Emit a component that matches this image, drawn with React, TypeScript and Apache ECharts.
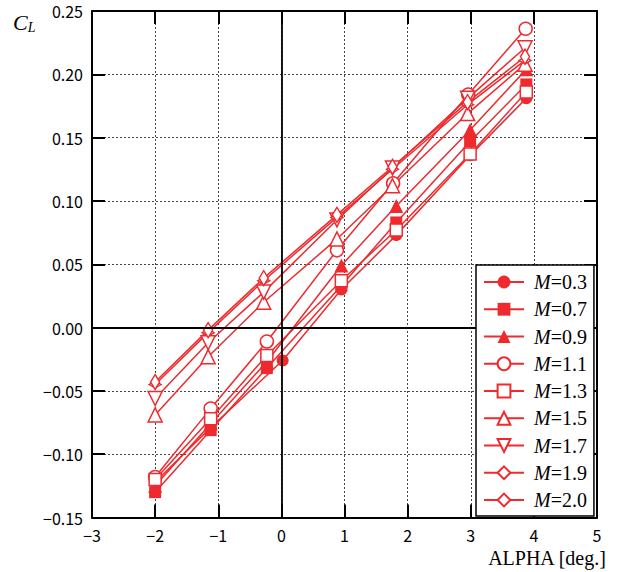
import React, { useEffect, useRef } from "react";
import * as echarts from "echarts";

const RED = "#EE2A2E";

// Angle of attack positions (deg.)
const alphaLow = [-2.0, -1.12, -0.23, 0.95, 1.82, 2.99, 3.88];
const alphaM03 = [-2.0, -1.12, 0.02, 0.95, 1.82, 2.99, 3.88];
const alphaM11 = [-2.0, -1.12, -0.23, 0.88, 1.77, 2.96, 3.87];
const alphaHigh = [-2.0, -1.16, -0.28, 0.88, 1.76, 2.95, 3.86];

// Lift coefficient values
const clM03 = [-0.122, -0.079, -0.026, 0.030, 0.073, 0.136, 0.181];
const clM07 = [-0.130, -0.081, -0.032, 0.033, 0.083, 0.147, 0.192];
const clM09 = [-0.125, -0.076, -0.027, 0.049, 0.096, 0.156, 0.204];
const clM11 = [-0.118, -0.064, -0.011, 0.061, 0.114, 0.184, 0.236];
const clM13 = [-0.120, -0.072, -0.022, 0.037, 0.077, 0.137, 0.186];
const clM15 = [-0.069, -0.023, 0.020, 0.070, 0.112, 0.169, 0.208];
const clM17 = [-0.056, -0.012, 0.028, 0.085, 0.126, 0.181, 0.221];
const clM19 = [-0.045, -0.004, 0.037, 0.087, 0.125, 0.176, 0.211];
const clM20 = [-0.043, -0.002, 0.039, 0.089, 0.127, 0.178, 0.214];

const seriesNames = ["M=0.3", "M=0.7", "M=0.9", "M=1.1", "M=1.3", "M=1.5", "M=1.7", "M=1.9", "M=2.0"];

const xTicks = [-3, -2, -1, 0, 1, 2, 3, 4, 5];

const zip = (xs: number[], ys: number[]) => xs.map((x, i) => [x, ys[i]]);

export default function App() {
  const ref = useRef<HTMLDivElement>(null);
  useEffect(() => {
    if (!ref.current) return;
    const chart = echarts.init(ref.current, null, { renderer: "svg" });

    const mk = (
      name: string,
      xs: number[],
      ys: number[],
      symbol: string,
      size: number | number[],
      filled: boolean,
      rotate = 0
    ) => ({
      type: "line",
      name,
      data: zip(xs, ys),
      symbol,
      symbolSize: size,
      symbolRotate: rotate,
      showAllSymbol: true,
      lineStyle: { color: RED, width: 1.5 },
      itemStyle: filled
        ? { color: RED, borderColor: RED, borderWidth: 0 }
        : { color: "#ffffff", borderColor: RED, borderWidth: 1.5 },
      emphasis: { disabled: true },
      z: 3,
    });

    const labelFmt = (v: number) => {
      const a = Math.abs(v) < 1e-9 ? 0 : v;
      return (a < 0 ? "\u2212" : "") + Math.abs(a).toFixed(2);
    };
    const xFmt = (v: number) => (v < 0 ? "\u2212" : "") + Math.abs(v).toString();

    const tickStyle = { show: true, inside: true, length: 13, lineStyle: { color: "#000", width: 2 } };
    const axisLineStyle = { show: true, onZero: false, lineStyle: { color: "#000", width: 2 } };
    const splitStyle = { show: true, lineStyle: { color: "#444", width: 1, type: [2, 2] } };

    chart.setOption({
      animation: false,
      grid: { left: 92, top: 11, right: 23, bottom: 54.5, containLabel: false },
      xAxis: [
        {
          type: "value",
          min: xTicks[0],
          max: xTicks[xTicks.length - 1],
          interval: 1,
          position: "bottom",
          axisLine: axisLineStyle,
          axisTick: tickStyle,
          splitLine: splitStyle,
          axisLabel: {
            formatter: xFmt,
            margin: 9,
            fontFamily: "Noto Sans CJK JP",
            fontSize: 16,
            color: "#000",
          },
        },
        {
          type: "value",
          min: xTicks[0],
          max: xTicks[xTicks.length - 1],
          interval: 1,
          position: "top",
          axisLine: axisLineStyle,
          axisTick: tickStyle,
          splitLine: { show: false },
          axisLabel: { show: false },
        },
      ],
      yAxis: [
        {
          type: "value",
          min: -0.15,
          max: 0.25,
          interval: 0.05,
          position: "left",
          axisLine: axisLineStyle,
          axisTick: tickStyle,
          splitLine: splitStyle,
          axisLabel: {
            formatter: labelFmt,
            margin: 9,
            fontFamily: "Noto Sans CJK JP",
            fontSize: 16,
            color: "#000",
          },
        },
        {
          type: "value",
          min: -0.15,
          max: 0.25,
          interval: 0.05,
          position: "right",
          axisLine: axisLineStyle,
          axisTick: tickStyle,
          splitLine: { show: false },
          axisLabel: { show: false },
        },
      ],
      legend: {
        orient: "vertical",
        left: 476,
        top: 265,
        data: seriesNames,
        itemWidth: 40,
        itemHeight: 16,
        itemGap: 7.25,
        padding: [7, 7, 6, 7],
        backgroundColor: "#fff",
        borderColor: "#000",
        borderWidth: 1.5,
        borderRadius: 0,
        selectedMode: false,
        formatter: (n: string) => "{i|M}=" + n.split("=")[1],
        textStyle: {
          fontFamily: "Liberation Serif",
          fontSize: 20,
          lineHeight: 20,
          color: "#000",
          padding: [0, 0, 0, 5],
          rich: {
            i: { fontFamily: "Liberation Serif", fontStyle: "italic", fontSize: 20, lineHeight: 20, color: "#000" },
          },
        },
        z: 10,
      },
      graphic: [
        {
          type: "text",
          left: 13,
          top: 11,
          style: {
            text: "{c|C}{l|L}",
            rich: {
              c: { fontFamily: "Liberation Serif", fontStyle: "italic", fontSize: 22, fill: "#000" },
              l: { fontFamily: "Liberation Serif", fontStyle: "italic", fontSize: 14, fill: "#000", padding: [10, 0, 0, 0] },
            },
          },
        },
        {
          type: "text",
          right: 13,
          top: 548,
          style: { text: "ALPHA [deg.]", fontFamily: "Liberation Serif", fontSize: 20, fill: "#000" },
        },
      ],
      series: [
        {
          type: "line",
          name: "zero",
          data: [],
          z: 1,
          silent: true,
          markLine: {
            silent: true,
            symbol: "none",
            label: { show: false },
            lineStyle: { color: "#000", width: 1.8, type: "solid" },
            emphasis: { disabled: true },
            data: [{ xAxis: 0 }, { yAxis: 0 }],
          },
        },
        mk(seriesNames[0], alphaM03, clM03, "circle", 12, true),
        mk(seriesNames[1], alphaLow, clM07, "rect", 12, true),
        mk(seriesNames[2], alphaLow, clM09, "triangle", 14, true),
        mk(seriesNames[3], alphaM11, clM11, "circle", 13, false),
        mk(seriesNames[4], alphaLow, clM13, "rect", 12, false),
        mk(seriesNames[5], alphaHigh, clM15, "triangle", 14, false),
        mk(seriesNames[6], alphaHigh, clM17, "triangle", 14, false, 180),
        mk(seriesNames[7], alphaHigh, clM19, "diamond", [12, 7], false),
        mk(seriesNames[8], alphaHigh, clM20, "diamond", [9, 15], false),
      ],
    });
    return () => chart.dispose();
  }, []);
  return <div ref={ref} style={{ position: "absolute", left: 0, top: 0, width: 620, height: 572 }} />;
}
